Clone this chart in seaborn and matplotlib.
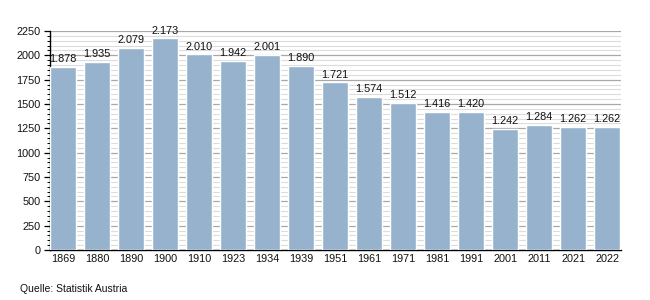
import matplotlib
matplotlib.use("Agg")
import matplotlib.pyplot as plt
import seaborn as sns
import pandas as pd
from matplotlib.ticker import MultipleLocator

years = ["1869", "1880", "1890", "1900", "1910", "1923", "1934", "1939", "1951",
         "1961", "1971", "1981", "1991", "2001", "2011", "2021", "2022"]
values = [1878, 1935, 2079, 2173, 2010, 1942, 2001, 1890, 1721,
          1574, 1512, 1416, 1420, 1242, 1284, 1262, 1262]

df = pd.DataFrame({"Jahr": years, "Einwohner": values})

sns.set_theme(style="white")
plt.rcParams['font.family'] = ['Liberation Sans', 'DejaVu Sans']

fig = plt.figure(figsize=(6.5, 3.0), dpi=100)
ax = fig.add_axes([50/650, 50/300, 571/650, 219/300])

sns.barplot(data=df, x="Jahr", y="Einwohner", color="#97b2cd", saturation=1,
            width=0.765, ax=ax, zorder=3)

ax.set_xlim(-0.385, 16.41)
ax.set_ylim(0, 2250)
ax.yaxis.set_major_locator(MultipleLocator(250))
ax.yaxis.set_minor_locator(MultipleLocator(50))
ax.grid(which="major", axis="y", color="#a8a8a8", linewidth=0.9, zorder=0)
ax.grid(which="minor", axis="y", color="#dcdcdc", linewidth=0.8, zorder=0)
ax.set_axisbelow(True)

for s in ["top", "right"]:
    ax.spines[s].set_visible(False)
for s in ["left", "bottom"]:
    ax.spines[s].set_color("black")
    ax.spines[s].set_linewidth(1.0)

ax.tick_params(axis="y", which="major", left=True, length=4, width=0.9, color="black",
               labelsize=7.8, pad=3, labelcolor="#111111")
ax.tick_params(axis="y", which="minor", left=True, length=2.5, width=0.7, color="black")
ax.tick_params(axis="x", bottom=False, length=0, labelsize=7.8, pad=3, labelcolor="#111111")
ax.set_xlabel("")
ax.set_ylabel("")

for i, v in enumerate(values):
    label = f"{v:,}".replace(",", ".")
    ax.annotate(label, (i, v), xytext=(0, 2), textcoords="offset points",
                ha="center", va="bottom", fontsize=7.8, color="#111111")

fig.text(20/650, 1 - 289/300, "Quelle: Statistik Austria", fontsize=7.5, va="center",
         ha="left", color="#111111")

fig.savefig("out.png", dpi=100)
